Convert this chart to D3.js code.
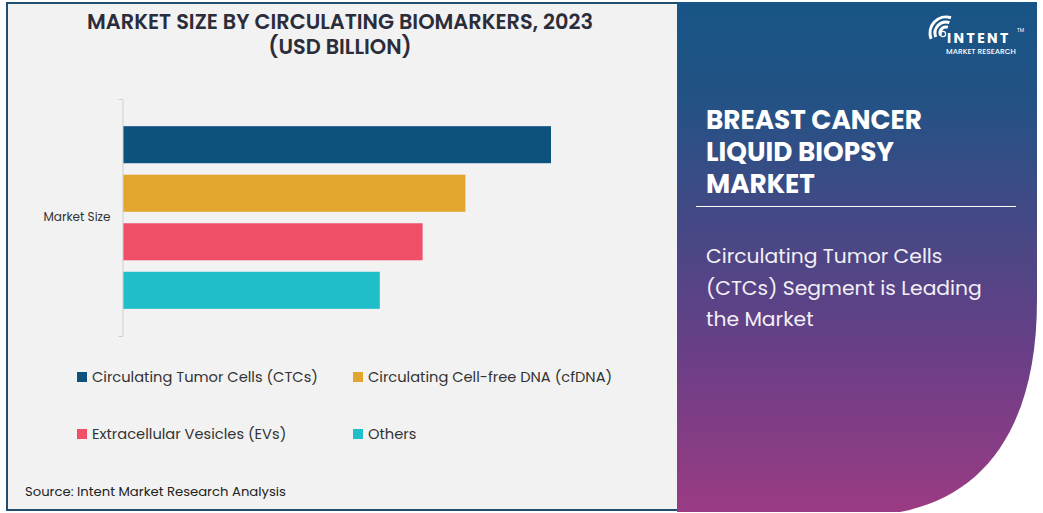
<!DOCTYPE html>
<html><head><meta charset="utf-8">
<script src="https://cdn.jsdelivr.net/npm/d3@7"></script>
<style>
html,body{margin:0;padding:0;background:#fff;}
svg{display:block;}
</style></head>
<body>
<svg id="chart" width="1043" height="513"></svg>
<script>
// ---- data ----
const categories = ["Market Size"];
const seriesNames = ["Circulating Tumor Cells (CTCs)", "Circulating Cell-free DNA (cfDNA)", "Extracellular Vesicles (EVs)", "Others"];
const seriesValues = [1.0, 0.8, 0.7, 0.6];
const seriesColors = ["#0d527d", "#e2a52e", "#f04f67", "#1fbec8"];
const titleLines = ["MARKET SIZE BY CIRCULATING BIOMARKERS, 2023", "(USD BILLION)"];
const panelTitle = ["BREAST CANCER", "LIQUID BIOPSY", "MARKET"];
const panelText = ["Circulating Tumor Cells", "(CTCs) Segment is Leading", "the Market"];
const sourceText = "Source: Intent Market Research Analysis";

const svg = d3.select("#chart");
const FONT = "Poppins, 'Open Sans', 'Noto Sans', sans-serif";

function fitWidth(sel, w) {
  const n = sel.node();
  const cur = n.getComputedTextLength();
  const fs = parseFloat(sel.attr("font-size"));
  sel.attr("font-size", (fs * w / cur).toFixed(2));
}

// left panel background and frame
svg.append("rect").attr("x", 7).attr("y", 3).attr("width", 700).attr("height", 507)
  .attr("fill", "#f2f2f2").attr("stroke", "#1f4e6e").attr("stroke-width", 2);

// right panel with gradient
const defs = svg.append("defs");
const grad = defs.append("linearGradient").attr("id", "pg").attr("x1", 0).attr("y1", 0).attr("x2", 0).attr("y2", 1);
grad.append("stop").attr("offset", "0%").attr("stop-color", "#175586");
grad.append("stop").attr("offset", "20%").attr("stop-color", "#245285");
grad.append("stop").attr("offset", "45%").attr("stop-color", "#474885");
grad.append("stop").attr("offset", "68%").attr("stop-color", "#683f87");
grad.append("stop").attr("offset", "100%").attr("stop-color", "#9b3b83");
svg.append("path")
  .attr("d", "M677,2 L1037,2 L1037,300 C1037,420 990,495 900,512 L677,512 Z")
  .attr("fill", "url(#pg)");

// title
const tg = svg.append("g").attr("font-family", FONT).attr("font-weight", 600).attr("fill", "#2b2d3a").attr("text-anchor", "middle");
const t1 = tg.append("text").attr("x", 340).attr("y", 29).attr("font-size", 17).text(titleLines[0]);
fitWidth(t1, 506);
tg.append("text").attr("x", 340).attr("y", 54).attr("font-size", parseFloat(t1.attr("font-size"))).text(titleLines[1]);

// chart
const x = d3.scaleLinear().domain([0, 1.0]).range([123, 551]);
const y0 = d3.scaleBand().domain(categories).range([99, 336]);
const y1 = d3.scaleBand().domain(seriesNames).range([y0(categories[0]), y0(categories[0]) + y0.bandwidth()])
  .paddingInner(0.237).paddingOuter(0.56);

svg.append("g").selectAll("rect").data(seriesNames).join("rect")
  .attr("x", x(0))
  .attr("y", d => y1(d))
  .attr("width", (d, i) => x(seriesValues[i]) - x(0))
  .attr("height", y1.bandwidth())
  .attr("fill", (d, i) => seriesColors[i]);

const yAxis = svg.append("g").attr("transform", `translate(${x(0) - 0.5},0)`)
  .call(d3.axisLeft(y0).tickSize(0).tickPadding(12).tickSizeOuter(4));
yAxis.select(".domain").attr("stroke", "#cfcfcf");
yAxis.selectAll("text").attr("font-family", FONT).attr("font-size", 12).attr("fill", "#333");

// legend
const lg = svg.append("g").attr("font-family", FONT).attr("font-size", 14.65).attr("fill", "#333");
const legPos = [[77, 377], [353, 377], [77, 434], [353, 434]];
seriesNames.forEach((s, i) => {
  const [lx, ly] = legPos[i];
  lg.append("rect").attr("x", lx).attr("y", ly - 5).attr("width", 10).attr("height", 10).attr("fill", seriesColors[i]);
  lg.append("text").attr("x", lx + 15).attr("y", ly + 5).text(s);
});

// source
svg.append("text").attr("x", 25).attr("y", 496).attr("font-family", FONT).attr("font-size", 13.2)
  .attr("fill", "#222").text(sourceText);

// right panel text
const pt = svg.append("g").attr("font-family", FONT).attr("fill", "#fff");
const ptYs = [129, 161, 193];
panelTitle.forEach((t, i) => {
  const el = pt.append("text").attr("x", 706).attr("y", ptYs[i]).attr("font-size", 26).attr("font-weight", 700).text(t);
  if (i === 0) fitWidth(el, 216);
});
const fsT = pt.select("text").attr("font-size");
pt.selectAll("text").attr("font-size", fsT);

svg.append("line").attr("x1", 696).attr("x2", 1016).attr("y1", 206.5).attr("y2", 206.5)
  .attr("stroke", "#fff").attr("stroke-width", 1.2);

const ps = svg.append("g").attr("font-family", FONT).attr("fill", "#f3f0f6");
const psYs = [263, 295, 326];
panelText.forEach((t, i) => {
  const el = ps.append("text").attr("x", 706).attr("y", psYs[i]).attr("font-size", 19).attr("font-weight", 400).text(t);
  if (i === 1) fitWidth(el, 276);
});
const fsS = ps.selectAll("text").filter((d, i) => i === 1).attr("font-size");
ps.selectAll("text").attr("font-size", fsS);

// logo
const logo = svg.append("g");
const cx = 946, cy = 33;
[6, 11, 16].forEach(r => {
  logo.append("path")
    .attr("d", d3.arc()({innerRadius: r - 1.5, outerRadius: r + 1.5, startAngle: -Math.PI * 0.62, endAngle: Math.PI * 0.1, cornerRadius: 1.5}))
    .attr("transform", `translate(${cx},${cy})`).attr("fill", "#fff");
});
logo.append("circle").attr("cx", cx - 3).attr("cy", cy + 1).attr("r", 2.6).attr("fill", "none").attr("stroke", "#fff").attr("stroke-width", 1.2);
const lt = svg.append("g").attr("font-family", FONT).attr("fill", "#fff");
const it = lt.append("text").attr("x", 947).attr("y", 43).attr("font-size", 14).attr("font-weight", 700)
  .attr("letter-spacing", 2.4).text("INTENT");
lt.append("text").attr("x", 1017).attr("y", 32).attr("font-size", 5).text("TM");
const mr = lt.append("text").attr("x", 946).attr("y", 54).attr("font-size", 7).attr("font-weight", 500).text("MARKET RESEARCH");
fitWidth(mr, 70);
</script>
</body></html>
